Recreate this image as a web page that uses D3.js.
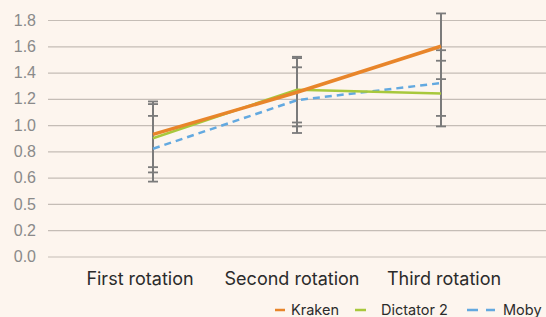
<!DOCTYPE html>
<html>
<head>
<meta charset="utf-8">
<script src="https://cdn.jsdelivr.net/npm/d3@7"></script>
<style>
  html, body { margin: 0; padding: 0; background: #fdf5ee; }
  svg { display: block; font-family: Inter, "Open Sans", sans-serif; }
</style>
</head>
<body>
<svg id="chart" width="546" height="317"></svg>
<script>
var categories = ['First rotation', 'Second rotation', 'Third rotation'];
var seriesNames = ['Kraken', 'Dictator 2', 'Moby'];
var krakenValues = [0.93, 1.25, 1.60];
var dictatorValues = [0.90, 1.27, 1.24];
var mobyValues = [0.82, 1.19, 1.32];
var krakenErrors = [0.25, 0.26, 0.25];
var dictatorErrors = [0.26, 0.25, 0.25];
var mobyErrors = [0.25, 0.25, 0.25];
var tickValues = [0, 0.2, 0.4, 0.6, 0.8, 1.0, 1.2, 1.4, 1.6, 1.8];
var tickLabels = ['0.0', '0.2', '0.5', '0.6', '0.8', '1.0', '1.2', '1.4', '1.6', '1.8'];

var series = [
  { name: seriesNames[0], values: krakenValues, errors: krakenErrors, color: '#e8852a', width: 3.5, dash: null },
  { name: seriesNames[1], values: dictatorValues, errors: dictatorErrors, color: '#a8c83c', width: 2.5, dash: null },
  { name: seriesNames[2], values: mobyValues, errors: mobyErrors, color: '#63a9e0', width: 2.5, dash: '7,5' }
];

var svg = d3.select('#chart');

var y = d3.scaleLinear().domain([0, 1.8]).range([256.5, 20]);
var x = d3.scalePoint().domain(categories).range([153, 441]);
// category labels sit on their own bands, a bit off the points
var xLabel = d3.scaleBand().domain(categories).range([64, 520]);

// gridlines + tick labels
var yAxis = d3.axisLeft(y)
  .tickValues(tickValues)
  .tickSize(-498)
  .tickPadding(12)
  .tickFormat(function (d) {
    var i = tickValues.findIndex(function (t) { return Math.abs(t - d) < 1e-9; });
    return tickLabels[i];
  });

var gy = svg.append('g')
  .attr('transform', 'translate(48,0)')
  .call(yAxis);
gy.select('.domain').remove();
gy.selectAll('.tick line')
  .attr('stroke', '#c5bdb6')
  .attr('stroke-width', 1.2);
gy.selectAll('.tick text')
  .attr('fill', '#8a8a8a')
  .style('font-size', '16px');

// category labels
svg.append('g')
  .selectAll('text')
  .data(categories)
  .enter()
  .append('text')
  .attr('x', function (d) { return xLabel(d) + xLabel.bandwidth() / 2; })
  .attr('y', 285)
  .attr('text-anchor', 'middle')
  .attr('fill', '#2b2b2b')
  .style('font-size', '18px')
  .text(function (d) { return d; });

// error bars
var errG = svg.append('g');
series.forEach(function (s) {
  s.values.forEach(function (v, i) {
    var cx = x(categories[i]);
    var top = y(v + s.errors[i]);
    var bot = y(v - s.errors[i]);
    errG.append('line')
      .attr('x1', cx).attr('x2', cx)
      .attr('y1', top).attr('y2', bot)
      .attr('stroke', '#7b7b7b').attr('stroke-width', 2);
    [top, bot].forEach(function (cy) {
      errG.append('line')
        .attr('x1', cx - 5).attr('x2', cx + 5)
        .attr('y1', cy).attr('y2', cy)
        .attr('stroke', '#7b7b7b').attr('stroke-width', 1.8);
    });
  });
});

// lines
var line = d3.line()
  .x(function (d, i) { return x(categories[i]); })
  .y(function (d) { return y(d); });

svg.append('g')
  .selectAll('path')
  .data(series.slice().reverse())
  .enter()
  .append('path')
  .attr('d', function (d) { return line(d.values); })
  .attr('fill', 'none')
  .attr('stroke', function (d) { return d.color; })
  .attr('stroke-width', function (d) { return d.width; })
  .attr('stroke-dasharray', function (d) { return d.dash; });

// legend
var legendX = [275, 355, 467];
var legendLen = [10, 11, 28];
var legendText = [291, 381, 503];
var legend = svg.append('g');
series.forEach(function (s, i) {
  legend.append('line')
    .attr('x1', legendX[i]).attr('x2', legendX[i] + legendLen[i])
    .attr('y1', 310).attr('y2', 310)
    .attr('stroke', s.color)
    .attr('stroke-width', 2.5)
    .attr('stroke-dasharray', s.dash ? '11,8' : null);
  legend.append('text')
    .attr('x', legendText[i])
    .attr('y', 315)
    .attr('fill', '#2b2b2b')
    .style('font-size', '14.5px')
    .text(s.name);
});
</script>
</body>
</html>
